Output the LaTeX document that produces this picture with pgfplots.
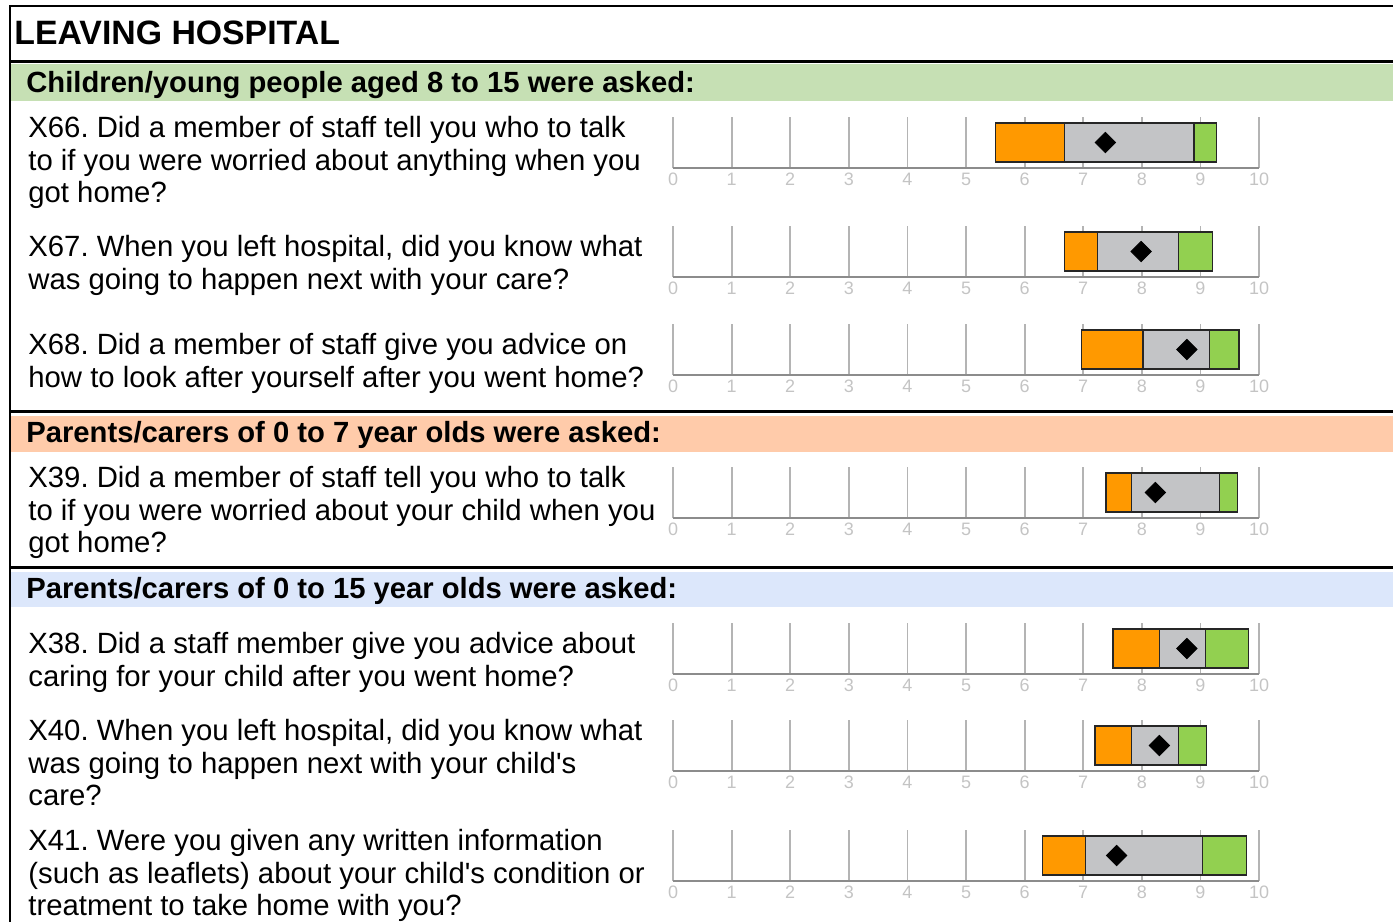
\documentclass[border=0pt]{standalone}
\usepackage{fontspec}
\setmainfont{Liberation Sans}[Ligatures=TeXOff]
\usepackage{pgfplots}
\pgfplotsset{compat=1.18}
\definecolor{barorange}{HTML}{FF9900}
\definecolor{bargray}{HTML}{C3C4C6}
\definecolor{bargreen}{HTML}{92D050}
\definecolor{bandgreen}{HTML}{C6E0B4}
\definecolor{bandorange}{HTML}{FFCBAA}
\definecolor{bandblue}{HTML}{DCE7FB}
\definecolor{gridgray}{HTML}{B4B4B4}
\definecolor{axgray}{HTML}{8C8C8C}
\definecolor{ticklab}{HTML}{C4C4C4}
\newcommand\qfont{\fontsize{14.65}{16.5}\selectfont}
\newcommand\hfont{\fontsize{14.6}{16.5}\selectfont\bfseries}
\newcommand\tfont{\fontsize{16.9}{18}\selectfont\bfseries}
\pgfplotsset{qaxis/.style={
  at={(336.5pt,#1)}, anchor=south west,
  scale only axis, width=293pt, height=25.5pt,
  xmin=0, xmax=10, ymin=-0.5, ymax=0.5,
  xtick={0,1,...,10}, ytick=\empty,
  axis x line*=bottom, axis y line=none,
  xmajorgrids, grid style={gridgray, line width=0.9pt},
  axis line style={axgray, line width=1pt},
  major tick length=0pt,
  xticklabel style={font=\fontsize{9}{9}\selectfont, text=ticklab, yshift=1pt},
  /pgf/number format/assume math mode=true,
  xbar stacked, bar width=19.5pt,
  clip=false,
}}
\pgfplotsset{
  spacer/.style={draw=none, fill=none},
  segO/.style={fill=barorange, draw=black!85, line width=0.6pt},
  segG/.style={fill=bargray, draw=black!85, line width=0.6pt},
  segN/.style={fill=bargreen, draw=black!85, line width=0.6pt},
  dia/.style={stack plots=false, only marks, mark=square*, mark size=3.6pt, mark options={rotate=45, fill=black, draw=black}},
}
\begin{document}
\frenchspacing
\begin{tikzpicture}
\path[use as bounding box] (0pt,0pt) rectangle (696.5pt,-461pt);
\begin{scope}[x=0.5pt,y=-0.5pt]
\fill[bandgreen] (11,64) rectangle (1393,101);
\fill[bandorange] (11,416) rectangle (1393,452);
\fill[bandblue] (11,572) rectangle (1393,607);
\draw[line width=1pt] (9,6) -- (1393,6);
\draw[line width=1pt] (10,5) -- (10,922);
\draw[line width=1.5pt] (9,61.5) -- (1393,61.5);
\draw[line width=1.5pt] (9,411.5) -- (1393,411.5);
\draw[line width=1.5pt] (9,567.5) -- (1393,567.5);
\tikzset{q/.style={anchor=base west, inner sep=0pt, font=\qfont}, h/.style={anchor=base west, inner sep=0pt, font=\hfont}}
\node[anchor=base west, inner sep=0pt, font=\tfont] at (14,44) {LEAVING HOSPITAL};
\node[h] at (26,92) {Children/young people aged 8 to 15 were asked:};
\node[q] at (28,137) {X66. Did a member of staff tell you who to talk};
\node[q] at (28,170) {to if you were worried about anything when you};
\node[q] at (28,202) {got home?};
\node[q] at (28,256) {X67. When you left hospital, did you know what};
\node[q] at (28,289) {was going to happen next with your care?};
\node[q] at (28,354) {X68. Did a member of staff give you advice on};
\node[q] at (28,387) {how to look after yourself after you went home?};
\node[h] at (26,442) {Parents/carers of 0 to 7 year olds were asked:};
\node[q] at (28,487) {X39. Did a member of staff tell you who to talk};
\node[q] at (28,520) {to if you were worried about your child when you};
\node[q] at (28,552) {got home?};
\node[h] at (26,598) {Parents/carers of 0 to 15 year olds were asked:};
\node[q] at (28,653) {X38. Did a staff member give you advice about};
\node[q] at (28,686) {caring for your child after you went home?};
\node[q] at (28,740) {X40. When you left hospital, did you know what};
\node[q] at (28,773) {was going to happen next with your child's};
\node[q] at (28,805) {care?};
\node[q] at (28,850) {X41. Were you given any written information};
\node[q] at (28,883) {(such as leaflets) about your child's condition or};
\node[q] at (28,915) {treatment to take home with you?};
\end{scope}
% X66
\begin{axis}[qaxis={-84pt}]
\addplot[spacer] coordinates {(5.51,0)};
\addplot[segO] coordinates {(1.17,0)};
\addplot[segG] coordinates {(2.21,0)};
\addplot[segN] coordinates {(0.38,0)};
\addplot[dia] coordinates {(7.38,0)};
\end{axis}
% X67
\begin{axis}[qaxis={-138.5pt}]
\addplot[spacer] coordinates {(6.68,0)};
\addplot[segO] coordinates {(0.57,0)};
\addplot[segG] coordinates {(1.37,0)};
\addplot[segN] coordinates {(0.58,0)};
\addplot[dia] coordinates {(7.99,0)};
\end{axis}
% X68
\begin{axis}[qaxis={-187.5pt}]
\addplot[spacer] coordinates {(6.97,0)};
\addplot[segO] coordinates {(1.05,0)};
\addplot[segG] coordinates {(1.13,0)};
\addplot[segN] coordinates {(0.51,0)};
\addplot[dia] coordinates {(8.77,0)};
\end{axis}
% X39
\begin{axis}[qaxis={-259pt}]
\addplot[spacer] coordinates {(7.39,0)};
\addplot[segO] coordinates {(0.44,0)};
\addplot[segG] coordinates {(1.50,0)};
\addplot[segN] coordinates {(0.30,0)};
\addplot[dia] coordinates {(8.23,0)};
\end{axis}
% X38
\begin{axis}[qaxis={-337pt}]
\addplot[spacer] coordinates {(7.51,0)};
\addplot[segO] coordinates {(0.79,0)};
\addplot[segG] coordinates {(0.79,0)};
\addplot[segN] coordinates {(0.73,0)};
\addplot[dia] coordinates {(8.77,0)};
\end{axis}
% X40
\begin{axis}[qaxis={-385.5pt}]
\addplot[spacer] coordinates {(7.20,0)};
\addplot[segO] coordinates {(0.62,0)};
\addplot[segG] coordinates {(0.81,0)};
\addplot[segN] coordinates {(0.48,0)};
\addplot[dia] coordinates {(8.30,0)};
\end{axis}
% X41
\begin{axis}[qaxis={-440.5pt}]
\addplot[spacer] coordinates {(6.31,0)};
\addplot[segO] coordinates {(0.73,0)};
\addplot[segG] coordinates {(2.00,0)};
\addplot[segN] coordinates {(0.75,0)};
\addplot[dia] coordinates {(7.57,0)};
\end{axis}
\end{tikzpicture}
\end{document}
